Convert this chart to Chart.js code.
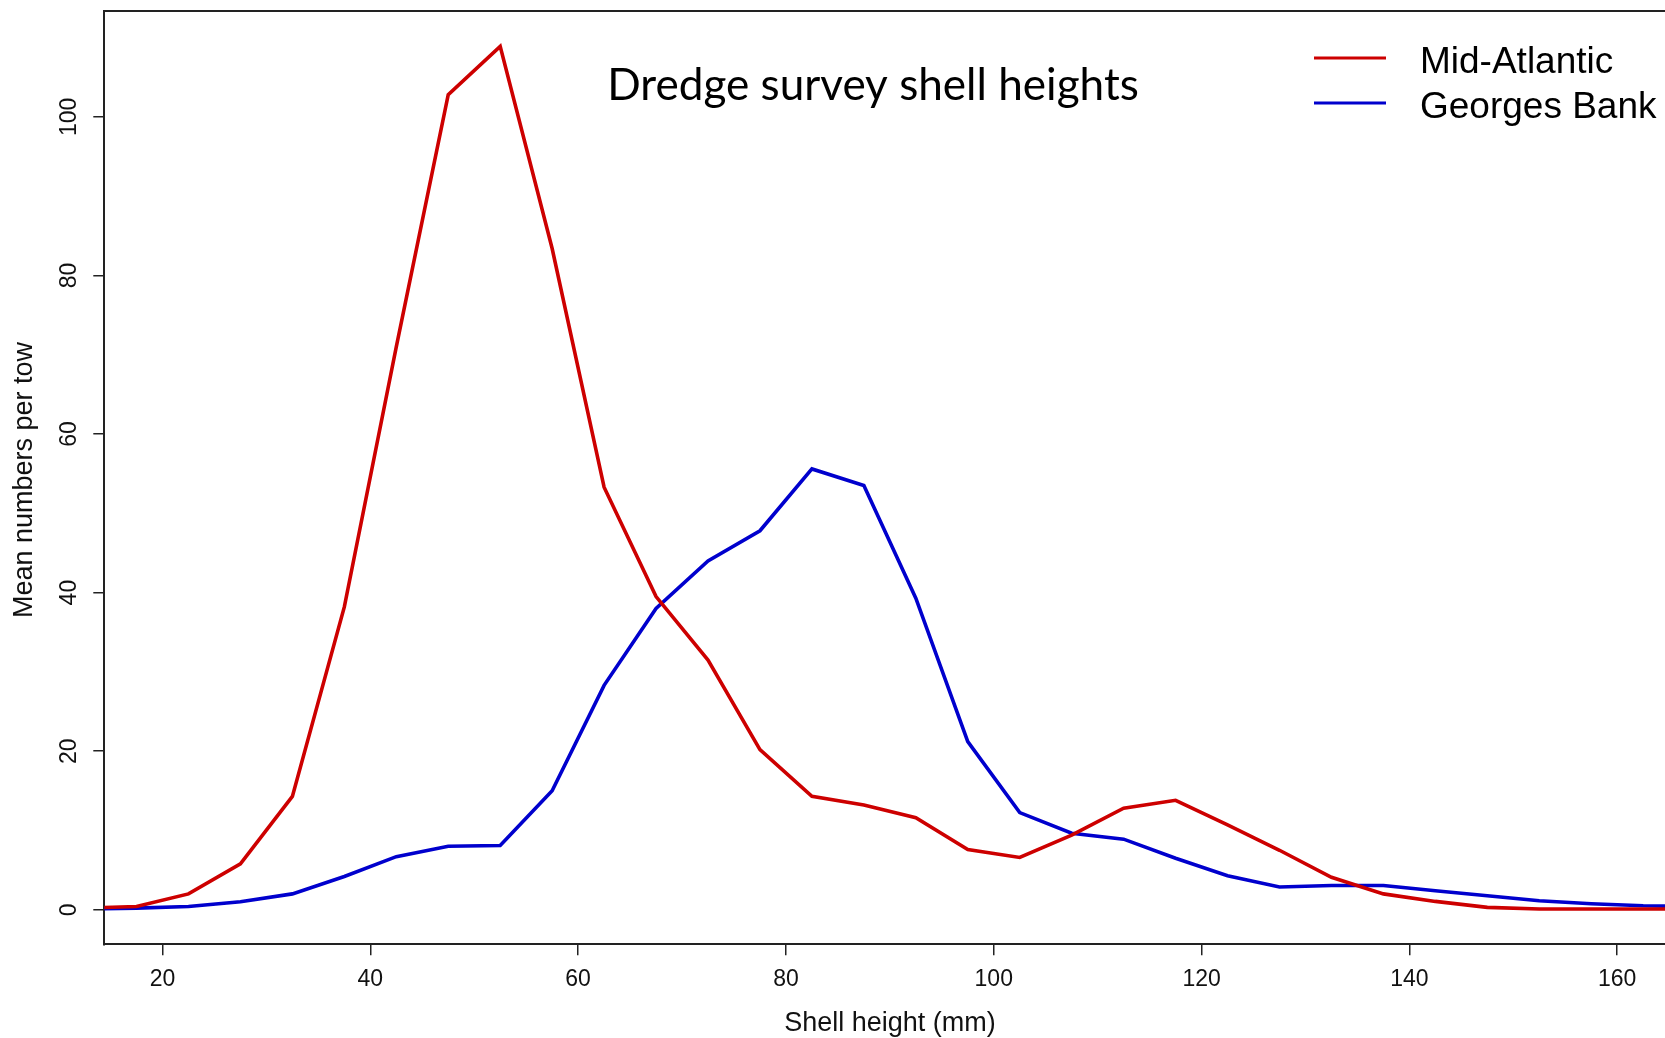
<!DOCTYPE html>
<html lang="en">
<head>
  <meta charset="UTF-8" />
  <title>Dredge survey shell heights</title>
  <script src="https://cdn.jsdelivr.net/npm/chart.js"></script>
  <style>
    html, body { margin: 0; padding: 0; background: #fff; overflow: hidden; }
    #chart { display: block; }
  </style>
</head>
<body>
  <canvas id="chart" width="1665" height="1038"></canvas>
  <script>
// shell height bins (mm), midpoints
const sizes = [12.5, 17.5, 22.5, 27.5, 32.5, 37.5, 42.5, 47.5, 52.5, 57.5, 62.5, 67.5, 72.5, 77.5, 82.5, 87.5,
               92.5, 97.5, 102.5, 107.5, 112.5, 117.5, 122.5, 127.5, 132.5, 137.5, 142.5, 147.5, 152.5, 157.5, 162.5, 167.5];
// mean numbers per tow
const midAtlantic = [0.2, 0.4, 2.0, 5.8, 14.3, 38.2, 71, 102.8, 108.9, 83.4, 53.3, 39.5, 31.5, 20.2, 14.3, 13.2,
                     11.6, 7.6, 6.6, 9.4, 12.8, 13.8, 10.7, 7.5, 4.1, 2.0, 1.05, 0.3, 0.1, 0.1, 0.1, 0.1];
const georgesBank = [0.1, 0.2, 0.4, 1.0, 2.0, 4.2, 6.7, 8.0, 8.1, 15.0, 28.3, 38.0, 44.0, 47.8, 55.6, 53.5,
                     39.3, 21.2, 12.25, 9.65, 8.9, 6.5, 4.3, 2.86, 3.06, 3.06, 2.4, 1.76, 1.13, 0.76, 0.5, 0.4];
const seriesNames = ["Mid-Atlantic", "Georges Bank"];
const seriesColors = ["#CD0000", "#0000CD"];
const xTicks = [20, 40, 60, 80, 100, 120, 140, 160];
const yTicks = [0, 20, 40, 60, 80, 100];
const titleText = "Dredge survey shell heights";
const xTitle = "Shell height (mm)";
const yTitle = "Mean numbers per tow";

const toPoints = vals => sizes.map((s, i) => ({ x: s, y: vals[i] }));

// draws the top frame line, tick labels, axis titles, the legend and the heading
const textPlugin = {
  id: "rText",
  afterDraw(chart) {
    const ctx = chart.ctx;
    const area = chart.chartArea;
    const xs = chart.scales.x, ys = chart.scales.y;
    ctx.save();
    ctx.strokeStyle = "#222";
    ctx.lineWidth = 2;
    ctx.beginPath();
    ctx.moveTo(area.left, area.top);
    ctx.lineTo(area.right, area.top);
    ctx.stroke();

    ctx.fillStyle = "#111";
    ctx.font = "23px 'Liberation Sans', Arial, sans-serif";
    ctx.textAlign = "center";
    ctx.textBaseline = "middle";
    xTicks.forEach(v => ctx.fillText(String(v), xs.getPixelForValue(v), 980));
    yTicks.forEach(v => {
      ctx.save();
      ctx.translate(70, ys.getPixelForValue(v));
      ctx.rotate(-Math.PI / 2);
      ctx.fillText(String(v), 0, 0);
      ctx.restore();
    });

    ctx.font = "27px 'Liberation Sans', Arial, sans-serif";
    ctx.fillText(xTitle, 890, 1024);
    ctx.save();
    ctx.translate(25, 480);
    ctx.rotate(-Math.PI / 2);
    ctx.fillText(yTitle, 0, 0);
    ctx.restore();

    // legend
    ctx.font = "37px 'Liberation Sans', Arial, sans-serif";
    ctx.textAlign = "left";
    seriesNames.forEach((name, i) => {
      const y = 58 + i * 45;
      ctx.strokeStyle = seriesColors[i];
      ctx.lineWidth = 3;
      ctx.beginPath();
      ctx.moveTo(1314, y);
      ctx.lineTo(1386, y);
      ctx.stroke();
      ctx.fillStyle = "#000";
      ctx.fillText(name, 1420, y + 5);
    });

    // heading, sized to the width it has in the original
    let size = 40;
    ctx.font = size + "px Lato, 'Open Sans', sans-serif";
    size = size * 532 / ctx.measureText(titleText).width;
    ctx.font = size.toFixed(1) + "px Lato, 'Open Sans', sans-serif";
    ctx.textAlign = "center";
    ctx.textBaseline = "alphabetic";
    ctx.fillText(titleText, 873, 100);
    ctx.restore();
  }
};

new Chart(document.getElementById("chart").getContext("2d"), {
  type: "line",
  data: {
    datasets: [
      { label: seriesNames[0], data: toPoints(midAtlantic), borderColor: seriesColors[0] },
      { label: seriesNames[1], data: toPoints(georgesBank), borderColor: seriesColors[1] }
    ]
  },
  options: {
    responsive: false,
    animation: false,
    devicePixelRatio: 1,
    layout: { padding: { top: 11, right: 0, left: 0, bottom: 0 } },
    elements: {
      line: { borderWidth: 3.6, tension: 0, fill: false },
      point: { radius: 0 }
    },
    plugins: { legend: { display: false }, tooltip: { enabled: false } },
    scales: {
      x: {
        type: "linear",
        min: 14.4,
        max: 164.6,
        afterBuildTicks: s => { s.ticks = xTicks.map(v => ({ value: v })); },
        afterFit: s => { s.height = 93.7; },
        ticks: { display: false },
        grid: { display: true, drawOnChartArea: false, drawTicks: true, tickLength: 11, color: "#222", lineWidth: 1.5 },
        border: { display: true, color: "#222", width: 2 }
      },
      y: {
        type: "linear",
        min: -4.36,
        max: 113.36,
        afterBuildTicks: s => { s.ticks = yTicks.map(v => ({ value: v })); },
        afterFit: s => { s.width = 104.3; },
        ticks: { display: false },
        grid: { display: true, drawOnChartArea: false, drawTicks: true, tickLength: 11, color: "#222", lineWidth: 1.5 },
        border: { display: true, color: "#222", width: 2 }
      }
    }
  },
  plugins: [textPlugin]
});
  </script>
</body>
</html>
